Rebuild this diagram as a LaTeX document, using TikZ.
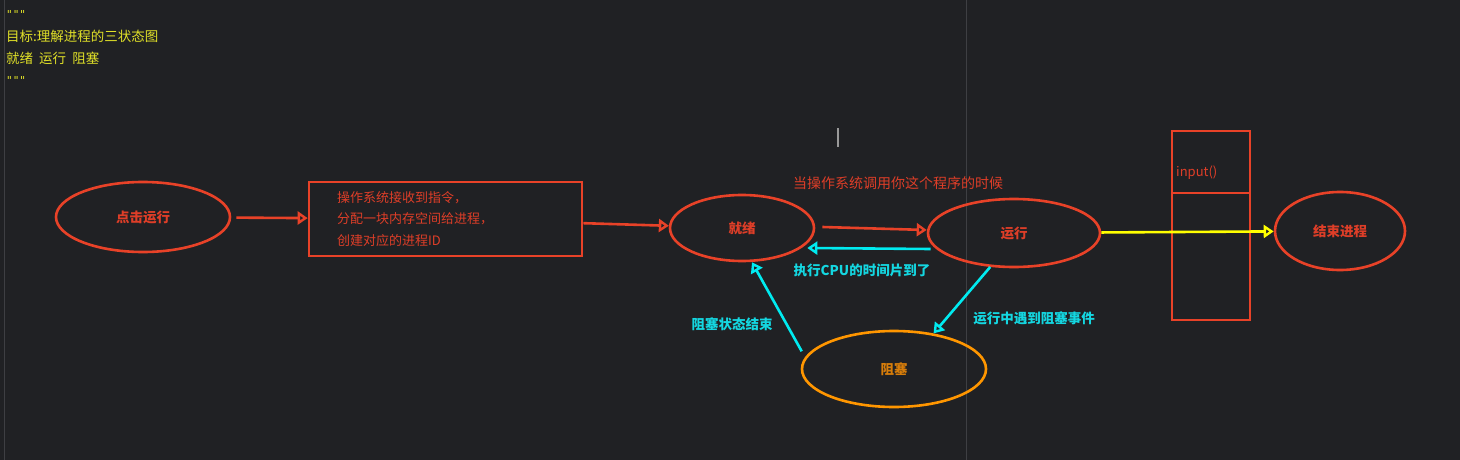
\documentclass[tikz,border=0pt]{standalone}
\usepackage{fontspec}
\setmainfont{Noto Sans CJK SC}
\newfontfamily\codefont{DejaVu Sans Mono}
\usepackage{tikz}
\usetikzlibrary{shapes.geometric, arrows.meta}

\definecolor{bgdark}{RGB}{32,33,36}
\definecolor{rulergray}{RGB}{62,63,67}
\definecolor{procred}{RGB}{232,66,40}
\definecolor{redtext}{RGB}{222,62,40}
\definecolor{blockorange}{RGB}{255,150,0}
\definecolor{orangetext}{RGB}{215,125,10}
\definecolor{eventcyan}{RGB}{0,235,240}
\definecolor{cyantext}{RGB}{20,215,225}
\definecolor{doneyellow}{RGB}{255,255,0}
\definecolor{noteyellow}{RGB}{225,225,40}

\begin{document}
\begin{tikzpicture}[x=1pt, y=-1pt,
    every node/.style={inner sep=0pt, font=\fontsize{13.5}{16}\selectfont},
    state/.style={ellipse, draw=procred, line width=2.6pt, text=redtext, font=\fontsize{13.5}{16}\selectfont\bfseries},
    blockstate/.style={state, draw=blockorange, text=orangetext},
    box/.style={rectangle, draw=procred, line width=2.6pt, text=redtext},
    note/.style={anchor=west, text=noteyellow, font=\fontsize{13.5}{15}\selectfont},
    redlabel/.style={text=redtext, font=\fontsize{14}{16}\selectfont},
    cyanlabel/.style={text=cyantext, font=\fontsize{13.5}{16}\selectfont\bfseries},
    tip/.style={-{Triangle[open, length=10pt, width=13pt, line width=2.4pt]}},
    redarrow/.style={tip, draw=procred, line width=2.6pt},
    cyanarrow/.style={tip, draw=eventcyan, line width=2.6pt},
    yellowarrow/.style={tip, draw=doneyellow, line width=2.6pt}
]

\fill[bgdark] (0,0) rectangle (1460,460);
\useasboundingbox (0,0) rectangle (1460,460);
\draw[rulergray, line width=1pt] (4,0) -- (4,460);
\draw[rulergray, line width=1pt] (966,0) -- (966,460);
\draw[gray!80, line width=1.5pt] (838,128) -- (838,147);

\node[note, font=\fontsize{11}{13}\codefont] (docopen) at (6,14) {\char"22\char"22\char"22};
\node[note] (goal) at (6,36) {目标:理解进程的三状态图};
\node[note] (states) at (6,58) {就绪\ \ 运行\ \ 阻塞};
\node[note, font=\fontsize{11}{13}\codefont] (docclose) at (6,80) {\char"22\char"22\char"22};

\node[state, minimum width=174pt, minimum height=70pt] (click) at (143,217) {点击运行};
\node[box, minimum width=273pt, minimum height=74pt, align=left, text width=217pt,
      font=\fontsize{13}{21.5}\selectfont] (alloc) at (445.5,219)
      {操作系统接收到指令，\\分配一块内存空间给进程，\\创建对应的进程ID};
\node[state, minimum width=144pt, minimum height=66pt] (ready) at (742,228) {就绪};
\node[state, minimum width=172pt, minimum height=68pt] (running) at (1014,233) {运行};
\node[blockstate, minimum width=184pt, minimum height=76pt] (blocked) at (894,369) {阻塞};
\node[box, minimum width=78pt, minimum height=62pt] (stacktop) at (1211,162) {};
\node[box, minimum width=78pt, minimum height=127pt] (stackbody) at (1211,256.5) {};
\node[anchor=west, text=redtext, font=\fontsize{13}{16}\selectfont] (inputcall) at (1176,173) {input()};
\node[state, minimum width=130pt, minimum height=78pt] (finish) at (1340,231) {结束进程};

\node[redlabel] (schedlabel) at (898,183) {当操作系统调用你这个程序的时候};
\node[cyanlabel] (slicelabel) at (862,270) {执行CPU的时间片到了};
\node[cyanlabel] (eventlabel) at (1034,318) {运行中遇到阻塞事件};
\node[cyanlabel] (wakelabel) at (732,324) {阻塞状态结束};

\draw[redarrow, shorten <=5pt] (click) -- (alloc);
\draw[redarrow] (alloc) -- (ready);
\draw[redarrow] ([xshift=7pt, yshift=1pt]ready.east) -- ([yshift=3pt]running.west);
\draw[cyanarrow] ([xshift=4pt, yshift=-16pt]running.west) -- ([xshift=-8pt, yshift=-20pt]ready.east);
\draw[cyanarrow] (running.235) -- (blocked.42);
\draw[cyanarrow] ([xshift=-9pt]blocked.168) -- ([xshift=10pt]ready.south);
\draw[yellowarrow] (running) -- (finish);

\end{tikzpicture}
\end{document}
